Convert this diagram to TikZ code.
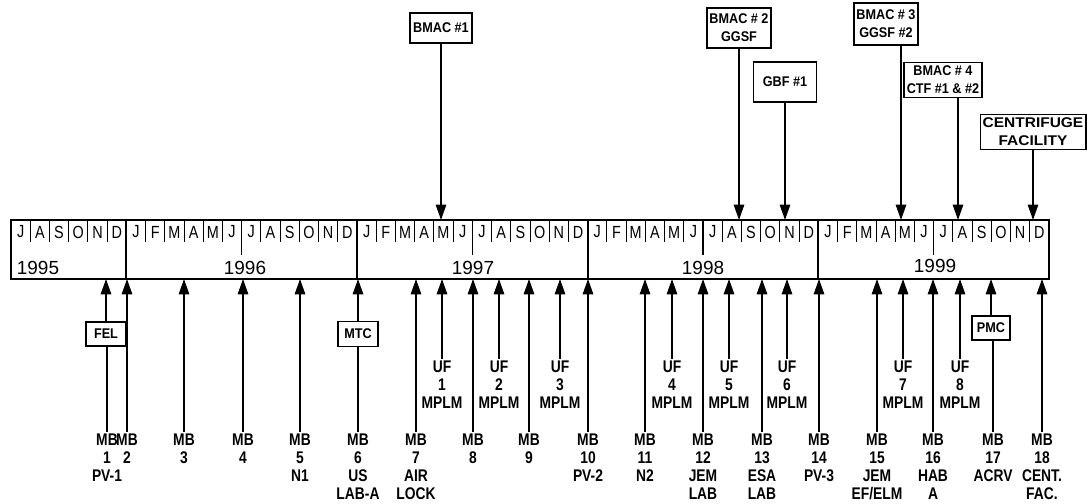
\documentclass[tikz,border=0pt]{standalone}
\usepackage{fontspec}
\setmainfont{Liberation Sans}
\newfontfamily\narrowsans{Liberation Sans}[FakeStretch=0.82]
\newfontfamily\boxsans{Liberation Sans}[FakeStretch=0.9]
\newfontfamily\widesans{Liberation Sans}[FakeStretch=1.1]
\usetikzlibrary{arrows.meta, positioning}

\begin{document}
\begin{tikzpicture}[x=0.025cm, y=-0.025cm, line width=1pt, >={Triangle[length=11pt, width=7.5pt]}]
      \tikzstyle{event}=[draw, line width=1.4pt, align=center, inner sep=2pt, font=\boxsans\bfseries\fontsize{10}{13}\selectfont]
      \tikzstyle{flight}=[align=center, inner sep=1pt, anchor=north, font=\narrowsans\bfseries\fontsize{12}{12.8}\selectfont]
      \tikzstyle{month}=[inner sep=0pt, font=\narrowsans\fontsize{12.5}{13}\selectfont]
      \tikzstyle{year}=[inner sep=0pt, font=\fontsize{13.5}{14}\selectfont]

      \useasboundingbox (0,0) rectangle (1087,504);

      % Timeline
      \draw[line width=1.4pt] (11,220) rectangle (1049,279);
      \coordinate (bartop) at (0,220);
      \coordinate (barbot) at (0,279);
      \foreach \i in {1,...,53}
        \draw[line width=0.6pt] ({11+\i*19.222},220) -- ++(0,22);
      \foreach \i in {12,24,36,48}
        \draw[line width=0.8pt] ({11+\i*19.222},220) -- ++(0,35);
      \foreach \i in {6,18,30,42}
        \draw[line width=1.4pt] ({11+\i*19.222},220) -- ++(0,59);
      \foreach \m [count=\i from 0] in {J,A,S,O,N,D,J,F,M,A,M,J,J,A,S,O,N,D,J,F,M,A,M,J,J,A,S,O,N,D,J,F,M,A,M,J,J,A,S,O,N,D,J,F,M,A,M,J,J,A,S,O,N,D}
        \node[month] (m\i) at ({11+(\i+0.5)*19.222},232) {\m};

      \node[year] (y95) at (38,268) {1995};
      \node[year] (y96) at (245,268) {1996};
      \node[year] (y97) at (473,268) {1997};
      \node[year] (y98) at (703,268) {1998};
      \node[year] (y99) at (935,266) {1999};

      % Facilities (top)
      \node[event, minimum width=1.5cm, minimum height=0.75cm]   (bmac1) at (441,28) {BMAC \#1};
      \node[event, minimum width=1.4cm, minimum height=1cm]      (bmac2) at (739,28) {BMAC \# 2\\GGSF};
      \node[event, minimum width=1.575cm, minimum height=1cm]    (gbf1)  at (785,82) {GBF \#1};
      \node[event, minimum width=1.575cm, minimum height=1.05cm] (bmac3) at (886,24) {BMAC \# 3\\GGSF \#2};
      \node[event, minimum width=1.675cm, minimum height=0.875cm] (bmac4) at (943,80) {BMAC \# 4\\CTF \#1 \& \#2};
      \node[event, minimum width=2.625cm, minimum height=0.875cm, font=\widesans\bfseries\fontsize{10}{13}\selectfont, inner xsep=0pt] (cent) at (1033,132) {CENTRIFUGE\\FACILITY};
      \coordinate (bm3x) at (901,0);
      \coordinate (bm4x) at (958,0);

      % Flights (bottom)
      \node[flight] (mb1)  at (107,432)  {MB\\1\\PV-1};
      \node[flight] (mb2)  at (127,432)  {MB\\2};
      \node[flight] (mb3)  at (184,432)  {MB\\3};
      \node[flight] (mb4)  at (243,432)  {MB\\4};
      \node[flight] (mb5)  at (300,432)  {MB\\5\\N1};
      \node[flight] (mb6)  at (358,432)  {MB\\6\\US\\LAB-A};
      \node[flight] (mb7)  at (416,432)  {MB\\7\\AIR\\LOCK};
      \node[flight] (mb8)  at (473,432)  {MB\\8};
      \node[flight] (mb9)  at (529,432)  {MB\\9};
      \node[flight] (mb10) at (588,432)  {MB\\10\\PV-2};
      \node[flight] (mb11) at (645,432)  {MB\\11\\N2};
      \node[flight] (mb12) at (703,432)  {MB\\12\\JEM\\LAB};
      \node[flight] (mb13) at (762,432)  {MB\\13\\ESA\\LAB};
      \node[flight] (mb14) at (819,432)  {MB\\14\\PV-3};
      \node[flight] (mb15) at (877,432)  {MB\\15\\JEM\\EF/ELM};
      \node[flight] (mb16) at (933,432)  {MB\\16\\HAB\\A};
      \node[flight] (mb17) at (993,432)  {MB\\17\\ACRV};
      \node[flight] (mb18) at (1042,432) {MB\\18\\CENT.\\FAC.};

      \node[flight] (uf1) at (442,359) {UF\\1\\MPLM};
      \node[flight] (uf2) at (499,359) {UF\\2\\MPLM};
      \node[flight] (uf3) at (560,359) {UF\\3\\MPLM};
      \node[flight] (uf4) at (672,359) {UF\\4\\MPLM};
      \node[flight] (uf5) at (729,359) {UF\\5\\MPLM};
      \node[flight] (uf6) at (787,359) {UF\\6\\MPLM};
      \node[flight] (uf7) at (903,359) {UF\\7\\MPLM};
      \node[flight] (uf8) at (960,359) {UF\\8\\MPLM};

      \node[event, minimum width=1cm, minimum height=0.6cm]   (fel) at (106,334) {FEL};
      \node[event, minimum width=1cm, minimum height=0.625cm] (mtc) at (358,334) {MTC};
      \node[event, minimum width=0.95cm, minimum height=0.6cm] (pmc) at (991,328) {PMC};

      % Edges
      \path[->]
        (bmac1) edge (bmac1 |- bartop)
        (bmac2) edge (bmac2 |- bartop)
        (gbf1)  edge (gbf1 |- bartop)
        (bm3x |- bmac3.south) edge (bm3x |- bartop)
        (bm4x |- bmac4.south) edge (bm4x |- bartop)
        (cent)  edge (cent |- bartop)
        (mb1)   edge[-] (mb1 |- fel.south)
        (fel)   edge (fel |- barbot)
        (mb2)   edge (mb2 |- barbot)
        (mb3)   edge (mb3 |- barbot)
        (mb4)   edge (mb4 |- barbot)
        (mb5)   edge (mb5 |- barbot)
        (mb6)   edge[-] (mb6 |- mtc.south)
        (mtc)   edge (mtc |- barbot)
        (mb7)   edge (mb7 |- barbot)
        (uf1)   edge (uf1 |- barbot)
        (mb8)   edge (mb8 |- barbot)
        (uf2)   edge (uf2 |- barbot)
        (mb9)   edge (mb9 |- barbot)
        (uf3)   edge (uf3 |- barbot)
        (mb10)  edge (mb10 |- barbot)
        (mb11)  edge (mb11 |- barbot)
        (uf4)   edge (uf4 |- barbot)
        (mb12)  edge (mb12 |- barbot)
        (uf5)   edge (uf5 |- barbot)
        (mb13)  edge (mb13 |- barbot)
        (uf6)   edge (uf6 |- barbot)
        (mb14)  edge (mb14 |- barbot)
        (mb15)  edge (mb15 |- barbot)
        (uf7)   edge (uf7 |- barbot)
        (mb16)  edge (mb16 |- barbot)
        (uf8)   edge (uf8 |- barbot)
        (mb17)  edge[-] (mb17 |- pmc.south)
        (pmc)   edge (pmc |- barbot)
        (mb18)  edge (mb18 |- barbot);
\end{tikzpicture}
\end{document}
